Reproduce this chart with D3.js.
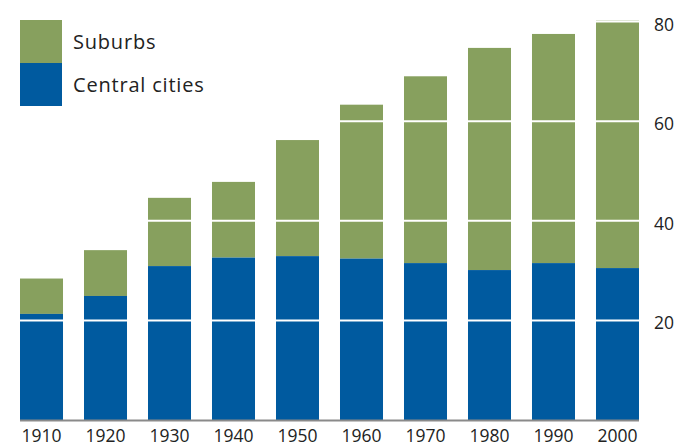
<!DOCTYPE html>
<html>
<head>
<meta charset="utf-8">
<script src="https://cdn.jsdelivr.net/npm/d3@7"></script>
<style>
  body { margin: 0; background: #fff; }
  text { font-family: "Open Sans", "DejaVu Sans", sans-serif; fill: #222; }
</style>
</head>
<body>
<script>
var years = ["1910", "1920", "1930", "1940", "1950", "1960", "1970", "1980", "1990", "2000"];
var centralCities = [21.3, 24.9, 30.9, 32.6, 32.9, 32.4, 31.5, 30.1, 31.5, 30.5];
var totals = [28.4, 34.1, 44.6, 47.8, 56.2, 63.3, 69.0, 74.7, 77.5, 80.2];
var yTicks = [20, 40, 60, 80];
var seriesNames = ["Suburbs", "Central cities"];

var width = 690, height = 447;
var green = "#87a05e", blue = "#005a9f";

var svg = d3.select("body").append("svg")
    .attr("width", width)
    .attr("height", height);

var x = d3.scaleBand()
    .domain(years)
    .range([20, 639])
    .paddingInner(0.328)
    .paddingOuter(0);

var y = d3.scaleLinear()
    .domain([0, 80])
    .range([420, 21.5]);

var data = years.map(function(d, i) {
    return { year: d, central: centralCities[i], total: totals[i] };
});

// suburbs sit on top of central cities
svg.append("g").selectAll("rect")
    .data(data)
    .enter().append("rect")
    .attr("x", function(d) { return x(d.year); })
    .attr("y", function(d) { return y(d.total); })
    .attr("width", x.bandwidth())
    .attr("height", function(d) { return y(d.central) - y(d.total); })
    .attr("fill", green);

svg.append("g").selectAll("rect")
    .data(data)
    .enter().append("rect")
    .attr("x", function(d) { return x(d.year); })
    .attr("y", function(d) { return y(d.central); })
    .attr("width", x.bandwidth())
    .attr("height", function(d) { return y(0) - y(d.central); })
    .attr("fill", blue);

var xLeft = x(years[0]);
var xRight = x(years[years.length - 1]) + x.bandwidth();

// white gridlines over the bars
svg.append("g").selectAll("line")
    .data(yTicks)
    .enter().append("line")
    .attr("x1", xLeft)
    .attr("x2", xRight)
    .attr("y1", function(d) { return y(d); })
    .attr("y2", function(d) { return y(d); })
    .attr("stroke", "#fff")
    .attr("stroke-width", 2);

// baseline
svg.append("line")
    .attr("x1", xLeft)
    .attr("x2", xRight)
    .attr("y1", y(0) + 0.5)
    .attr("y2", y(0) + 0.5)
    .attr("stroke", "#8a8a8a")
    .attr("stroke-width", 2);

// right axis labels
var yAxis = d3.axisRight(y).tickValues(yTicks).tickSize(0).tickPadding(0);
var ya = svg.append("g")
    .attr("transform", "translate(654,3)")
    .call(yAxis);
ya.select(".domain").remove();
ya.selectAll("text")
    .style("font-size", "17.5px")
    .attr("fill", "#222");

// bottom axis labels
var xAxis = d3.axisBottom(x).tickSize(0).tickPadding(0);
var xa = svg.append("g")
    .attr("transform", "translate(0,430)")
    .call(xAxis);
xa.select(".domain").remove();
xa.selectAll("text")
    .style("font-size", "17.5px")
    .attr("fill", "#222");

// legend
var legend = svg.append("g");
var legendColors = [green, blue];
legend.selectAll("rect")
    .data(seriesNames)
    .enter().append("rect")
    .attr("x", 20)
    .attr("y", function(d, i) { return 20 + i * 43; })
    .attr("width", 42)
    .attr("height", 43)
    .attr("fill", function(d, i) { return legendColors[i]; });
legend.selectAll("text")
    .data(seriesNames)
    .enter().append("text")
    .attr("x", 73)
    .attr("y", function(d, i) { return 48.5 + i * 43.5; })
    .style("font-size", "20px")
    .style("letter-spacing", "0.8px")
    .text(function(d) { return d; });
</script>
</body>
</html>
